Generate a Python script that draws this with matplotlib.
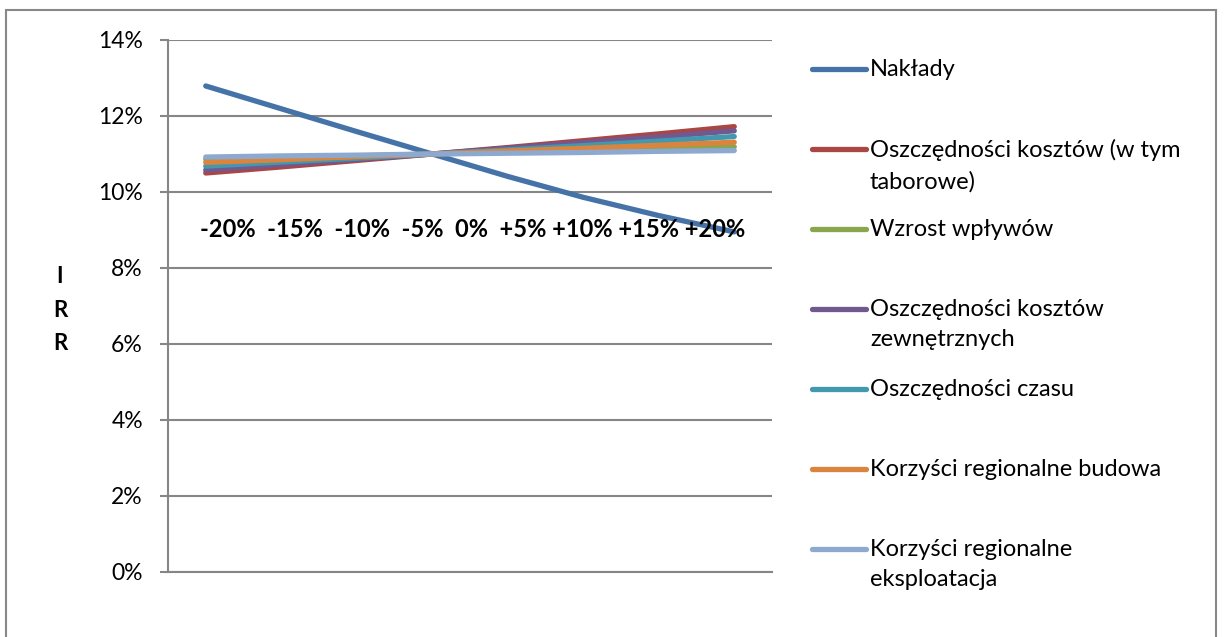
import matplotlib
matplotlib.use("Agg")
import matplotlib.pyplot as plt
from matplotlib.lines import Line2D
from matplotlib.patches import Rectangle
from matplotlib.ticker import FuncFormatter

plt.rcParams["font.family"] = ["Lato", "DejaVu Sans"]

# sensitivity steps (8 plotted points, base case at index 3)
steps = [0, 1, 2, 3, 4, 5, 6, 7]
step_labels = ["-20%", "-15%", "-10%", "-5%", "0%", "+5%", "+10%", "+15%", "+20%"]

naklady = [12.79, 12.19, 11.59, 11.00, 10.41, 9.86, 9.38, 8.95]
oszcz_kosztow = [10.50, 10.66, 10.83, 11.00, 11.17, 11.35, 11.53, 11.72]
wzrost_wplywow = [10.86, 10.91, 10.95, 11.00, 11.05, 11.09, 11.14, 11.19]
oszcz_zewn = [10.58, 10.72, 10.86, 11.00, 11.15, 11.30, 11.45, 11.61]
oszcz_czasu = [10.68, 10.79, 10.89, 11.00, 11.11, 11.22, 11.34, 11.46]
korz_budowa = [10.78, 10.85, 10.93, 11.00, 11.08, 11.15, 11.23, 11.31]
korz_eksploatacja = [10.92, 10.95, 10.97, 11.00, 11.02, 11.04, 11.07, 11.09]

series_names = [
    "Nakłady",
    "Oszczędności kosztów (w tym\ntaborowe)",
    "Wzrost wpływów",
    "Oszczędności kosztów\nzewnętrznych",
    "Oszczędności czasu",
    "Korzyści regionalne budowa",
    "Korzyści regionalne\neksploatacja",
]
series_values = [naklady, oszcz_kosztow, wzrost_wplywow, oszcz_zewn,
                 oszcz_czasu, korz_budowa, korz_eksploatacja]
colors = ["#4572A7", "#AA4643", "#89A54E", "#71588F", "#4198AF", "#DB843D", "#8EA9D0"]

W, H = 1228, 637
fig = plt.figure(figsize=(W / 100, H / 100), dpi=100)
ax = fig.add_axes([168 / W, 1 - 572 / H, (772 - 168) / W, (572 - 40) / H])

grid_c = "#868686"
for vals, c in zip(series_values, colors):
    ax.plot(steps, vals, color=c, linewidth=3.8, solid_capstyle="round", zorder=3)

ax.set_xlim(-0.5, 7.5)
ax.set_ylim(0, 14)
ax.set_yticks(range(0, 15, 2))
ax.yaxis.set_major_formatter(FuncFormatter(lambda v, _: f"{v:.0f}%"))
ax.set_xticks([])
ax.grid(axis="y", color=grid_c, linewidth=1.5)
ax.set_axisbelow(True)
for s in ["top", "right"]:
    ax.spines[s].set_visible(False)
for s in ["left", "bottom"]:
    ax.spines[s].set_color(grid_c)
    ax.spines[s].set_linewidth(1.5)
ax.tick_params(axis="y", length=6, width=1.5, color=grid_c, labelsize=16.5, pad=12)
for lbl in ax.get_yticklabels():
    lbl.set_color("black")

# step labels row (text box in the original)
fig.text(200 / W, 1 - 230 / H, "  ".join(step_labels[:5]) + "  " + " ".join(step_labels[5:]),
         fontsize=17, fontweight="bold", ha="left", va="center")

# vertical IRR title
fig.text(60 / W, 1 - 310 / H, "I\nR\nR", fontsize=16, fontweight="bold",
         ha="center", va="center", linespacing=1.75)

# legend
for i, (name, c) in enumerate(zip(series_names, colors)):
    y = 1 - (69 + 80 * i) / H
    fig.add_artist(Line2D([812 / W, 866 / W], [y, y], color=c, linewidth=3.8,
                          solid_capstyle="round", transform=fig.transFigure))
    fig.text(870 / W, y + 10 / H, name, fontsize=17, ha="left", va="top", linespacing=1.55)

# chart border
fig.add_artist(Rectangle((6 / W, -0.02), (1216 - 6) / W, 1.02 - 10 / H,
                         transform=fig.transFigure, fill=False,
                         edgecolor="#888888", linewidth=1.5))

fig.savefig("out.png", dpi=100)
